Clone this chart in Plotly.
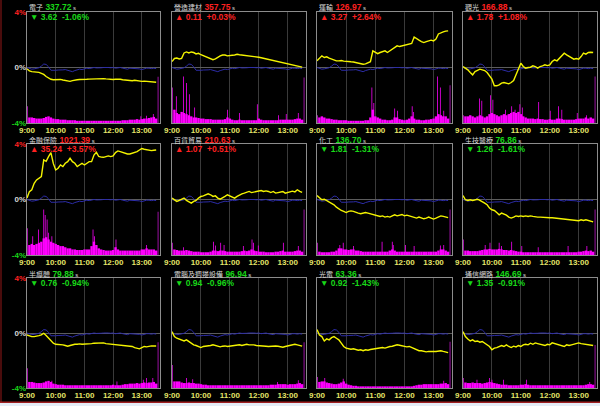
import plotly.graph_objects as go

# ---------------- data ----------------
# minutes after 9:00, sampled every 5 minutes up to 13:30
T = list(range(0, 271, 5))
T_VOL = list(range(5, 271, 5))
TICK_MIN = [0, 60, 120, 180, 240]
TICK_TXT = ["9:00", "10:00", "11:00", "12:00", "13:00"]

names = ["電子", "營造建材", "運輸", "觀光", "金融保險", "百貨貿易",
         "化工", "生技醫療", "半導體", "電腦及週邊設備", "光電", "通信網路"]
prices = [337.72, 357.75, 126.97, 166.88, 1021.39, 210.63,
          136.70, 76.86, 79.88, 96.94, 63.36, 146.69]
changes = [-3.62, 0.11, 3.27, 1.78, 35.24, 1.07,
           -1.81, -1.26, -0.76, -0.94, -0.92, -1.35]
pcts = [-1.06, 0.03, 2.64, 1.08, 3.57, 0.51,
        -1.31, -1.61, -0.94, -0.96, -1.43, -0.91]

# market index % change (blue line, same in every panel)
taiex = [0.0, -0.05, -0.12, -0.1, -0.05, -0.02, 0.1, 0.25, 0.22, 0.05, -0.2,
         -0.22, -0.2, -0.18, -0.2, -0.17, -0.15, -0.2, -0.25, -0.3, -0.22, -0.15,
         -0.12, -0.15, -0.12, -0.05, -0.08, -0.02, 0.0, -0.03, -0.05, -0.02, 0.0,
         0.02, 0.0, -0.02, 0.0, -0.05, -0.02, 0.0, -0.05, -0.1, -0.12, -0.05,
         -0.05, -0.08, -0.05, -0.1, -0.15, -0.08, -0.05, -0.05, -0.08, -0.05, -0.08]

# sector index % change (yellow lines)
sec_elec = [-0.1, -0.25, -0.3, -0.3, -0.35, -0.35, -0.42, -0.5, -0.65, -0.75, -0.85,
            -0.88, -0.88, -0.84, -0.86, -0.9, -0.95, -0.98, -1.0, -0.95, -0.9, -0.88,
            -0.86, -0.87, -0.86, -0.85, -0.84, -0.83, -0.82, -0.8, -0.78, -0.82, -0.8,
            -0.82, -0.85, -0.86, -0.86, -0.85, -0.84, -0.85, -0.88, -0.9, -0.95, -0.98,
            -0.95, -0.92, -0.96, -1.0, -1.0, -0.98, -1.0, -1.04, -1.02, -1.05, -1.06]
sec_constr = [0.43, 0.65, 0.68, 0.62, 0.66, 1.05, 1.12, 1.05, 1.12, 1.08, 0.98,
              1.02, 0.92, 0.85, 0.76, 0.7, 0.62, 0.56, 0.62, 0.74, 0.84, 0.9,
              0.9, 0.84, 0.84, 0.88, 0.9, 0.95, 0.92, 0.9, 0.9, 0.88, 0.86,
              0.84, 0.8, 0.76, 0.74, 0.7, 0.66, 0.62, 0.58, 0.55, 0.5, 0.48,
              0.42, 0.38, 0.34, 0.32, 0.3, 0.26, 0.2, 0.16, 0.12, 0.08, 0.03]
sec_transp = [0.48, 0.7, 0.84, 0.72, 0.77, 0.67, 0.6, 0.53, 0.48, 0.48, 0.5,
              0.46, 0.43, 0.42, 0.41, 0.4, 0.36, 0.33, 0.31, 0.24, 0.26, 0.33,
              0.42, 1.2, 1.08, 1.0, 1.08, 1.15, 1.2, 1.08, 1.2, 1.32, 1.44,
              1.56, 1.51, 1.56, 1.61, 1.63, 1.68, 1.73, 2.2, 2.11, 1.97, 1.87,
              1.8, 1.87, 1.92, 1.97, 1.92, 2.05, 2.42, 2.52, 2.57, 2.62, 2.64]
sec_tour = [0.07, -0.05, -0.17, -0.36, -0.53, -0.29, -0.22, -0.12, -0.17, -0.22, -0.36,
            -0.65, -0.84, -1.32, -1.32, -1.25, -1.13, -1.08, -1.13, -1.18, -1.08, -0.94,
            -0.53, -0.05, 0.31, 0.07, -0.05, 0.0, 0.02, 0.12, 0.07, -0.05, 0.07,
            0.12, 0.19, 0.14, 0.19, 0.43, 0.55, 0.48, 0.67, 0.91, 1.03, 0.91,
            0.79, 0.67, 0.6, 0.65, 0.6, 0.79, 1.03, 0.96, 1.08, 1.1, 1.08]
sec_fin = [0.1, 0.57, 0.7, 1.17, 1.41, 1.53, 1.65, 2.85, 2.75, 3.09, 3.38,
           2.6, 2.13, 2.25, 2.49, 2.37, 2.61, 2.73, 2.97, 2.73, 2.61, 2.37,
           2.49, 2.61, 2.49, 2.61, 2.73, 2.73, 3.2, 3.4, 3.1, 3.05, 3.04,
           3.09, 3.14, 3.09, 3.14, 3.38, 3.5, 3.45, 3.38, 3.33, 3.28, 3.28,
           3.33, 3.38, 3.45, 3.57, 3.67, 3.62, 3.57, 3.52, 3.52, 3.55, 3.57]
sec_dept = [0.1, -0.02, -0.14, -0.07, 0.02, 0.1, -0.07, -0.14, -0.26, -0.14, -0.07,
            0.1, 0.22, 0.26, 0.34, 0.41, 0.34, 0.22, 0.26, 0.1, 0.02, 0.1,
            0.22, 0.34, 0.26, 0.22, 0.1, 0.22, 0.34, 0.41, 0.46, 0.5, 0.58,
            0.5, 0.53, 0.6, 0.58, 0.65, 0.58, 0.62, 0.58, 0.5, 0.58, 0.46,
            0.5, 0.55, 0.58, 0.46, 0.5, 0.58, 0.6, 0.55, 0.7, 0.58, 0.51]
sec_chem = [0.29, 0.1, -0.02, 0.02, -0.07, -0.14, -0.26, -0.38, -0.55, -0.7, -0.79,
            -0.86, -0.94, -0.86, -0.82, -0.86, -0.94, -0.98, -1.03, -0.98, -0.94, -0.98,
            -1.03, -1.1, -1.1, -1.18, -1.22, -1.18, -1.27, -1.22, -1.27, -1.18, -1.1,
            -1.18, -1.13, -1.08, -1.18, -1.13, -1.18, -1.22, -1.27, -1.34, -1.27, -1.34,
            -1.39, -1.34, -1.27, -1.34, -1.41, -1.34, -1.27, -1.18, -1.22, -1.27, -1.31]
sec_bio = [0.29, -0.02, -0.07, -0.02, -0.07, -0.02, 0.02, -0.07, -0.14, -0.26, -0.38,
           -0.62, -0.74, -0.79, -0.94, -1.1, -0.98, -1.03, -1.13, -1.27, -1.34, -1.27,
           -1.18, -1.22, -1.18, -1.22, -1.18, -1.22, -1.18, -1.22, -1.27, -1.27, -1.27,
           -1.29, -1.32, -1.32, -1.32, -1.32, -1.34, -1.34, -1.37, -1.39, -1.41, -1.46,
           -1.49, -1.51, -1.49, -1.51, -1.53, -1.46, -1.51, -1.46, -1.51, -1.56, -1.61]
sec_semi = [-0.14, -0.22, -0.26, -0.26, -0.24, -0.19, -0.14, -0.02, -0.19, -0.38, -0.58,
            -0.74, -0.82, -0.82, -0.82, -0.86, -0.91, -0.96, -0.91, -0.86, -0.82, -0.82,
            -0.79, -0.82, -0.82, -0.79, -0.77, -0.77, -0.74, -0.74, -0.7, -0.72, -0.72,
            -0.77, -0.79, -0.79, -0.82, -0.82, -0.82, -0.84, -0.86, -0.91, -0.91, -0.96,
            -0.98, -1.06, -1.1, -1.15, -1.06, -0.98, -1.01, -0.96, -0.94, -0.94, -0.94]
sec_comp = [0.1, -0.26, -0.38, -0.43, -0.5, -0.58, -0.5, -0.62, -0.74, -0.86, -0.91,
            -0.98, -1.06, -0.98, -0.96, -0.98, -0.91, -0.86, -0.91, -0.98, -1.01, -0.96,
            -0.94, -0.98, -0.96, -0.91, -0.94, -0.89, -0.86, -0.91, -0.86, -0.82, -0.86,
            -0.84, -0.86, -0.91, -0.91, -0.94, -0.91, -0.96, -0.98, -0.96, -0.98, -0.94,
            -0.96, -1.01, -1.03, -0.98, -0.94, -0.86, -0.84, -0.82, -0.86, -0.91, -0.96]
sec_opto = [0.26, -0.14, -0.26, -0.58, -0.43, -0.5, -0.34, -0.26, -0.38, -0.5, -0.74,
            -0.98, -1.1, -1.15, -1.18, -1.15, -1.22, -1.25, -1.22, -1.29, -1.22, -1.25,
            -1.2, -1.18, -1.15, -1.1, -1.08, -1.06, -1.1, -1.01, -0.98, -0.96, -0.91,
            -0.86, -0.89, -0.94, -0.98, -1.01, -0.98, -1.06, -1.15, -1.25, -1.29, -1.29,
            -1.34, -1.37, -1.34, -1.32, -1.34, -1.34, -1.32, -1.29, -1.34, -1.39, -1.43]
sec_comm = [0.1, -0.26, -0.43, -0.58, -0.5, -0.62, -0.58, -0.67, -0.62, -0.74, -0.86,
            -0.98, -1.22, -1.1, -1.06, -0.98, -0.91, -0.98, -0.86, -0.98, -1.06, -0.96,
            -1.01, -0.91, -0.98, -0.86, -0.82, -0.86, -0.74, -0.82, -0.72, -0.77, -0.82,
            -0.86, -0.91, -0.82, -0.86, -0.72, -0.77, -0.82, -0.86, -0.91, -0.98, -0.86,
            -0.91, -0.86, -0.82, -0.77, -0.72, -0.77, -0.79, -0.82, -0.86, -0.86, -0.91]

# trading volume (relative units, 5-minute floor)
vol_elec = [5, 5, 4.5, 4, 4, 4, 4.5, 5.5, 6, 5, 4, 3.5, 3.5, 3, 3, 3, 2.5, 2.5, 2.5, 2.5,
            2, 2, 2, 2, 2, 2, 2, 2, 2, 2, 2, 2, 2, 2, 2, 2, 2, 2, 2, 2.5,
            2.5, 2.5, 3, 3, 3, 3.5, 3, 3.5, 4, 4, 4.5, 5, 5.5, 4]
vol_constr = [12, 9, 8, 10, 9, 8, 7, 6, 5, 5, 4.5, 4, 4, 3.5, 3.5, 3.5, 3, 3, 3, 3,
              3, 3.5, 5, 4, 3, 2.5, 2.5, 3, 2.5, 2.5, 2.5, 2.5, 2.5, 2.5, 2.5, 4, 3, 2.5, 2.5, 2.5,
              2.5, 2.5, 2.5, 2.5, 3, 3, 3, 3, 3, 3, 3.5, 4, 4, 3]
vol_transp = [5, 6, 5, 4, 4, 3.5, 3, 3, 2.5, 2.5, 2.5, 2.5, 2, 2, 2, 2, 2, 2, 2, 2.5,
              2.5, 5, 12, 6, 5, 4, 3, 3, 2.5, 2.5, 3, 5, 5, 3.5, 3, 2.5, 3, 4, 6, 4,
              3, 3, 2.5, 2.5, 3, 3, 3.5, 4, 6, 8, 7, 6, 6, 4]
vol_tour = [6, 6, 7, 6, 5, 6, 7, 6, 5, 6, 8, 9, 8, 7, 6, 7, 8, 7, 8, 9,
            10, 9, 10, 8, 6, 5, 4, 4, 4, 3.5, 4, 3.5, 3.5, 3, 3, 3.5, 3, 3, 4, 4,
            3.5, 3, 3, 3, 3, 3, 3.5, 4, 4, 4, 5, 4, 5, 4]
vol_fin = [9, 10, 9, 10, 11, 12, 15, 16, 14, 12, 11, 10, 9, 8, 8, 7, 6, 6, 5, 5,
           4.5, 4.5, 4.5, 5, 5, 5, 8, 12, 9, 6, 5, 4.5, 4, 4, 4, 4.5, 7, 5, 4, 4,
           4, 4, 4, 4, 4, 4, 4, 5, 5, 6, 5, 5, 5, 4]
vol_dept = [5, 4.5, 4, 4, 4, 4.5, 4, 3.5, 3, 3, 3, 2.5, 2.5, 2.5, 2.5, 3, 4, 4, 3.5, 4,
            4, 3.5, 3, 3, 3, 3, 3, 3, 3.5, 4, 3.5, 4, 5, 4, 3.5, 3, 3, 3, 2.5, 2.5,
            2.5, 2.5, 3, 3, 3.5, 4, 3, 3, 3, 3, 3.5, 4, 4, 3]
vol_chem = [3, 2.5, 2.5, 2.5, 2.5, 3, 3, 4, 6, 6, 5, 5, 4.5, 5, 5, 4, 4, 3.5, 3, 3,
            3, 3, 3, 3, 3, 3, 3, 3, 3, 4, 5, 4, 3, 3, 3, 3, 3, 3, 3, 3,
            3, 3, 3, 3, 3, 3, 3, 3, 3, 4, 5, 5, 4, 3]
vol_bio = [4, 4, 3.5, 3.5, 3.5, 3.5, 4, 4.5, 5, 5, 5.5, 5, 5, 5, 5.5, 5, 4.5, 4.5, 4, 4.5,
           4, 3.5, 3, 3, 2.5, 2.5, 2.5, 2.5, 2.5, 2.5, 2.5, 2.5, 2.5, 2.5, 2.5, 2.5, 2.5, 2.5, 2.5, 2.5,
           2.5, 2.5, 2.5, 2.5, 2.5, 2.5, 2.5, 3, 3, 3.5, 4, 3.5, 4, 3]
vol_semi = [5.5, 5.5, 5, 4.5, 4.5, 4.5, 5, 6, 6.5, 5.5, 4, 3.5, 3, 3, 3, 2.5, 2.5, 2.5, 2.5, 2.5,
            2.5, 2.5, 2.5, 2.5, 2.5, 2.5, 2.5, 2.5, 2.5, 2.5, 2.5, 2.5, 2.5, 2.5, 2.5, 3, 2.5, 2.5, 2.5, 3,
            3.5, 3.5, 4, 4, 4, 4.5, 4, 4.5, 5, 4.5, 5, 5, 5.5, 4]
vol_comp = [6, 6, 6, 5, 4.5, 4.5, 5, 4.5, 4.5, 4, 4, 3.5, 3, 3, 2.5, 2.5, 2.5, 2.5, 2.5, 2.5,
            2.5, 2.5, 2.5, 2.5, 2.5, 2.5, 2.5, 2.5, 2.5, 2.5, 2.5, 2.5, 2.5, 2.5, 2.5, 2.5, 2.5, 2.5, 2.5, 2.5,
            3, 3, 3, 3.5, 3.5, 3.5, 3.5, 3, 3.5, 3.5, 3.5, 4, 4.5, 3.5]
vol_opto = [5.5, 6, 6, 5, 4.5, 4, 3.5, 3.5, 4, 5, 6, 4, 3, 2.5, 2, 2, 1.5, 1.5, 1.5, 1.5,
            1.5, 1.5, 1.5, 1.5, 1.5, 1.5, 1.5, 1.5, 1.5, 1.5, 1.5, 1.5, 1.5, 1.5, 1.5, 1.5, 1.5, 1.5, 1.5, 2,
            2.5, 3, 3, 3.5, 3.5, 3.5, 3.5, 3.5, 3.5, 3.5, 4, 4, 4.5, 3.5]
vol_comm = [5, 4.5, 4.5, 5, 4.5, 4.5, 4.5, 4, 4.5, 5, 5.5, 5, 4.5, 4, 3.5, 3, 3, 3, 2.5, 2.5,
            2.5, 2.5, 2.5, 3, 3, 3.5, 3, 2.5, 2.5, 2.5, 2.5, 2.5, 2.5, 2.5, 2.5, 2.5, 2.5, 2.5, 2.5, 2.5,
            2.5, 2.5, 2.5, 2.5, 2.5, 2.5, 2.5, 2.5, 2.5, 2.5, 3, 3.5, 3.5, 3]

# single-minute volume spikes (minute, volume)
spk_elec = [(238, 6), (250, 6.5), (264, 8)]
spk_constr = [(9, 24), (24, 42), (30, 36), (36, 26), (47, 14), (115, 12), (140, 9),
              (177, 17), (221, 7), (237, 8), (262, 9)]
spk_transp = [(113, 32), (117, 18), (160, 13), (166, 11), (196, 15), (199, 10),
              (248, 42), (254, 32), (261, 11)]
spk_tour = [(34, 22), (39, 20), (57, 25), (62, 21), (88, 12), (101, 15), (108, 12),
            (118, 17), (123, 14), (157, 19), (181, 11), (198, 15), (205, 12), (237, 9), (256, 7)]
spk_fin = [(12, 17), (24, 23), (35, 41), (38, 36), (42, 32), (45, 20), (52, 17),
           (138, 23), (141, 17), (186, 14), (250, 9)]
spk_dept = [(24, 7), (86, 12), (90, 8.5), (101, 11), (108, 9), (148, 8), (166, 14),
            (169, 11), (179, 8.5), (231, 11), (262, 8)]
spk_chem = [(47, 9), (54, 11), (75, 8), (134, 12), (155, 12), (157, 9), (182, 9),
            (200, 8), (254, 8.5), (261, 9)]
spk_bio = [(46, 9), (56, 11), (75, 11), (80, 8), (101, 12), (122, 8), (156, 7), (218, 8), (257, 8)]
spk_semi = [(52, 6.5), (188, 6), (243, 7.5), (250, 9), (263, 9)]
spk_comp = [(30, 9), (43, 8), (219, 5.5), (262, 7)]
spk_opto = [(16, 9), (54, 8.5), (261, 6.5)]
spk_comm = [(29, 7.5), (55, 9), (60, 7.5), (84, 7.5), (132, 7.5), (263, 5.5)]

# opening / closing auction volume
open_vol = [15, 32, 7, 7, 24, 11, 11, 14, 18, 21, 10, 9]
close_vol = [41.6, 41, 34, 42, 39, 41, 41, 41, 41.5, 41.5, 42, 39]
OPEN_T, CLOSE_T = 1, 274

sectors = [sec_elec, sec_constr, sec_transp, sec_tour, sec_fin, sec_dept,
           sec_chem, sec_bio, sec_semi, sec_comp, sec_opto, sec_comm]
volumes = [vol_elec, vol_constr, vol_transp, vol_tour, vol_fin, vol_dept,
           vol_chem, vol_bio, vol_semi, vol_comp, vol_opto, vol_comm]
spikes = [spk_elec, spk_constr, spk_transp, spk_tour, spk_fin, spk_dept,
          spk_chem, spk_bio, spk_semi, spk_comp, spk_opto, spk_comm]

# ---------------- layout ----------------
W, H = 600, 406
COLS = [(27, 160), (172, 306), (317, 452), (463, 597)]
ROWS = [(12, 123), (144, 255), (278, 388)]
XMAX = 278
RED, GREEN, GREY_TXT = "#ff2020", "#18d818", "#d8d8d8"
BORDER = "#8c8c8c"

fig = go.Figure()
layout = dict(
    width=W, height=H, margin=dict(l=0, r=0, t=0, b=0, autoexpand=False),
    paper_bgcolor="black", plot_bgcolor="black",
    showlegend=False, barmode="overlay",
    font=dict(family="Liberation Sans, Arial", color=GREY_TXT, size=8),
)
annotations = []

for i in range(12):
    r, c = divmod(i, 4)
    n = i + 1
    s = "" if n == 1 else str(n)
    ps = str(n + 12)
    x0, x1 = COLS[c]
    y0, y1 = ROWS[r]

    layout[f"xaxis{s}"] = dict(
        domain=[x0 / W, x1 / W], anchor=f"y{s}", range=[0, XMAX],
        tickmode="array", tickvals=TICK_MIN, ticktext=[f"<b>{t}</b>" for t in TICK_TXT],
        tickfont=dict(color="#e4e468", size=8, family="Liberation Sans"),
        showgrid=True, gridcolor="#3a3a3a", gridwidth=1, zeroline=False,
        showline=True, mirror=True, linecolor=BORDER, linewidth=1, ticks="",
        ticklabelstandoff=-1,
        fixedrange=True, automargin=False,
    )
    layout[f"yaxis{s}"] = dict(
        domain=[1 - y1 / H, 1 - y0 / H], anchor=f"x{s}", range=[0, 100],
        showline=True, mirror=True, linecolor=BORDER, linewidth=1,
        showgrid=False, zeroline=False, showticklabels=False, ticks="",
        fixedrange=True, automargin=False,
    )
    layout[f"yaxis{ps}"] = dict(
        overlaying=f"y{s}", anchor=f"x{s}", range=[-4, 4],
        showgrid=False, zeroline=True, zerolinecolor="#5c5c5c", zerolinewidth=1,
        tickmode="array", tickvals=[-4, 0, 4],
        ticktext=[f"<b><span style='color:{GREEN}'>-4%</span></b>",
                  "<b>0%</b>",
                  f"<b><span style='color:{RED}'>4%</span></b>"],
        tickfont=dict(size=8, color=GREY_TXT, family="Liberation Sans"),
        showticklabels=(c == 0), ticks="", fixedrange=True, automargin=False,
    )

    # volume floor
    fig.add_trace(go.Bar(x=T_VOL, y=volumes[i], width=5, marker_color="#ff00ff",
                         marker_line_width=0, xaxis=f"x{s}", yaxis=f"y{s}"))
    # spikes
    fig.add_trace(go.Bar(x=[p[0] for p in spikes[i]], y=[p[1] for p in spikes[i]], width=1.6,
                         marker_color="#ff00ff", marker_line_width=0,
                         xaxis=f"x{s}", yaxis=f"y{s}"))
    # opening / closing auction
    fig.add_trace(go.Bar(x=[OPEN_T, CLOSE_T], y=[open_vol[i], close_vol[i]], width=2,
                         marker_color="#a010a8", marker_line_width=0,
                         xaxis=f"x{s}", yaxis=f"y{s}"))
    # market line
    fig.add_trace(go.Scatter(x=T, y=taiex, mode="lines", line=dict(color="#2c2ca8", width=1),
                             xaxis=f"x{s}", yaxis=f"y{ps}"))
    # sector line
    fig.add_trace(go.Scatter(x=T, y=sectors[i], mode="lines", line=dict(color="#f4f400", width=1.4),
                             xaxis=f"x{s}", yaxis=f"y{ps}"))

    up = changes[i] >= 0
    col = RED if up else GREEN
    title = (f"<span style='font-family:Noto Sans CJK TC;font-size:7px;color:{GREY_TXT}'>{names[i]}</span>"
             f" <b><span style='color:{col}'>{prices[i]:.2f}</span></b>"
             f"<span style='font-size:6px;color:{GREY_TXT}'> s</span>")
    annotations.append(dict(text=title, x=(x0 + 0.5) / W, y=1 - (y0 - 4.5) / H,
                            xref="paper", yref="paper", xanchor="left", yanchor="middle",
                            showarrow=False, font=dict(size=8.5, family="Liberation Sans"),
                            borderpad=0))
    arrow = "▲" if up else "▼"
    line2 = f"<b>{arrow} {abs(changes[i]):.2f}  {pcts[i]:+.2f}%</b>"
    annotations.append(dict(text=line2, x=(x0 + 1.5) / W, y=1 - (y0 + 5) / H,
                            xref="paper", yref="paper", xanchor="left", yanchor="middle",
                            showarrow=False, font=dict(size=8.5, color=col, family="Liberation Sans, DejaVu Sans"),
                            borderpad=0))

layout["annotations"] = annotations
layout["shapes"] = [
    dict(type="rect", xref="paper", yref="paper", x0=0, x1=2 / W, y0=0, y1=1,
         fillcolor="#4a0c0c", line_width=0, layer="above"),
    dict(type="rect", xref="paper", yref="paper", x0=0, x1=1, y0=3 / H, y1=4.5 / H,
         fillcolor="#a02020", line_width=0, layer="above"),
    dict(type="rect", xref="paper", yref="paper", x0=0, x1=1, y0=0, y1=3 / H,
         fillcolor="#e4ecf6", line_width=0, layer="above"),
]
fig.update_layout(**layout)
fig.write_html(
    "out.html",
    config={"displayModeBar": False, "staticPlot": True},
    post_script="document.body.style.margin='0';document.body.style.overflow='hidden';"
                "document.body.style.background='black';",
)
